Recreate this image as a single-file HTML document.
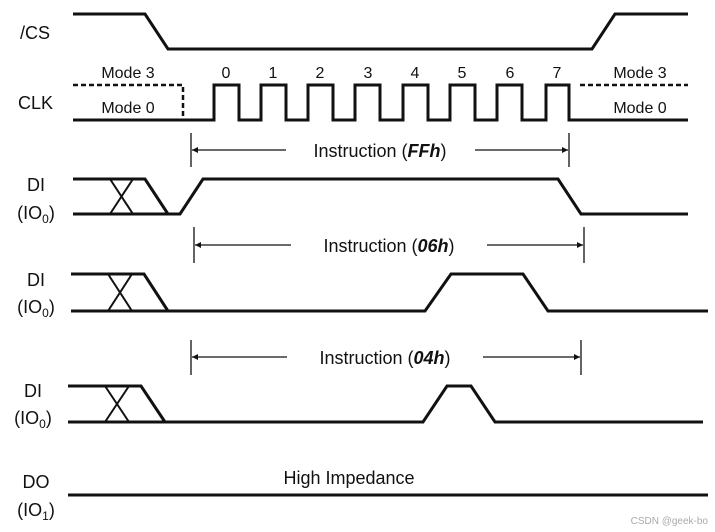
<!DOCTYPE html>
<html><head><meta charset="utf-8"><style>
html,body{margin:0;padding:0;background:#fff;}
svg{display:block;}
text{font-family:"Liberation Sans",sans-serif;fill:#111;}
</style></head><body>
<svg width="715" height="532" viewBox="0 0 715 532" xmlns="http://www.w3.org/2000/svg">
<defs>
<marker id="a" viewBox="0 0 10 10" refX="10" refY="5" markerWidth="14" markerHeight="6" markerUnits="userSpaceOnUse" orient="auto-start-reverse"><path d="M0,0 L10,5 L0,10 z" fill="#111"/></marker>
</defs>
<g fill="none" stroke="#111" stroke-width="3" stroke-linejoin="miter">
<!-- CS -->
<polyline points="73,14 145,14 168,49 592,49 615,14 688,14"/>
<!-- CLK -->
<polyline points="73,120 214,120 214,85 239,85 239,120 261,120 261,85 286,85 286,120 308,120 308,85 333,85 333,120 355,120 355,85 380,85 380,120 403,120 403,85 428,85 428,120 450,120 450,85 475,85 475,120 497,120 497,85 522,85 522,120 546,120 546,85 569,85 569,120 688,120"/>
<!-- DI1 -->
<polyline points="73,179 145,179 168,214"/>
<polyline points="73,214 180,214 203,179 558,179 581,214 688,214"/>
<line x1="110" y1="214" x2="133" y2="179" stroke-width="2"/>
<line x1="110" y1="179" x2="133" y2="214" stroke-width="2"/>
<!-- DI2 -->
<polyline points="71,274 144,274 168,311"/>
<polyline points="71,311 425,311 451,274 523,274 548,311 708,311"/>
<line x1="108" y1="311" x2="132" y2="274" stroke-width="2"/>
<line x1="108" y1="274" x2="132" y2="311" stroke-width="2"/>
<!-- DI3 -->
<polyline points="68,386 141,386 165,422"/>
<polyline points="68,422 423,422 447,386 471,386 495,422 703,422"/>
<line x1="105" y1="422" x2="129" y2="386" stroke-width="2"/>
<line x1="105" y1="386" x2="129" y2="422" stroke-width="2"/>
<!-- DO -->
<line x1="68" y1="495" x2="708" y2="495"/>
</g>
<g fill="none" stroke="#111" stroke-width="2.5" stroke-dasharray="5,3">
<polyline points="73,85 183,85 183,120"/>
<line x1="580" y1="85" x2="688" y2="85"/>
</g>
<g stroke="#111" stroke-width="1.3" fill="none">
<line x1="191" y1="133" x2="191" y2="167"/><line x1="569" y1="133" x2="569" y2="167"/>
<line x1="286" y1="150" x2="192" y2="150" marker-end="url(#a)"/>
<line x1="475" y1="150" x2="568" y2="150" marker-end="url(#a)"/>
<line x1="194" y1="227" x2="194" y2="263"/><line x1="584" y1="227" x2="584" y2="263"/>
<line x1="291" y1="245" x2="195" y2="245" marker-end="url(#a)"/>
<line x1="487" y1="245" x2="583" y2="245" marker-end="url(#a)"/>
<line x1="191" y1="340" x2="191" y2="375"/><line x1="581" y1="340" x2="581" y2="375"/>
<line x1="287" y1="357" x2="192" y2="357" marker-end="url(#a)"/>
<line x1="483" y1="357" x2="580" y2="357" marker-end="url(#a)"/>
</g>
<g font-size="18">
<text x="20" y="39">/CS</text>
<text x="18" y="109">CLK</text>
<text x="36" y="191" text-anchor="middle">DI</text>
<text x="36" y="219" text-anchor="middle">(IO<tspan font-size="12" dy="4">0</tspan><tspan dy="-4">)</tspan></text>
<text x="36" y="286" text-anchor="middle">DI</text>
<text x="36" y="313" text-anchor="middle">(IO<tspan font-size="12" dy="4">0</tspan><tspan dy="-4">)</tspan></text>
<text x="33" y="397" text-anchor="middle">DI</text>
<text x="33" y="424" text-anchor="middle">(IO<tspan font-size="12" dy="4">0</tspan><tspan dy="-4">)</tspan></text>
<text x="36" y="488" text-anchor="middle">DO</text>
<text x="36" y="516" text-anchor="middle">(IO<tspan font-size="12" dy="4">1</tspan><tspan dy="-4">)</tspan></text>
<text x="380" y="157" text-anchor="middle">Instruction (<tspan font-weight="bold" font-style="italic">FFh</tspan>)</text>
<text x="389" y="252" text-anchor="middle">Instruction (<tspan font-weight="bold" font-style="italic">06h</tspan>)</text>
<text x="385" y="364" text-anchor="middle">Instruction (<tspan font-weight="bold" font-style="italic">04h</tspan>)</text>
<text x="349" y="484" text-anchor="middle">High Impedance</text>
</g>
<g font-size="16" text-anchor="middle">
<text x="128" y="78">Mode 3</text>
<text x="128" y="113">Mode 0</text>
<text x="640" y="78">Mode 3</text>
<text x="640" y="113">Mode 0</text>
<text x="226" y="78">0</text><text x="273" y="78">1</text><text x="320" y="78">2</text><text x="368" y="78">3</text>
<text x="415" y="78">4</text><text x="462" y="78">5</text><text x="510" y="78">6</text><text x="557" y="78">7</text>
</g>
<text x="708" y="524" font-size="10" text-anchor="end" style="fill:#aaa">CSDN @geek-bo</text>
</svg>
</body></html>
